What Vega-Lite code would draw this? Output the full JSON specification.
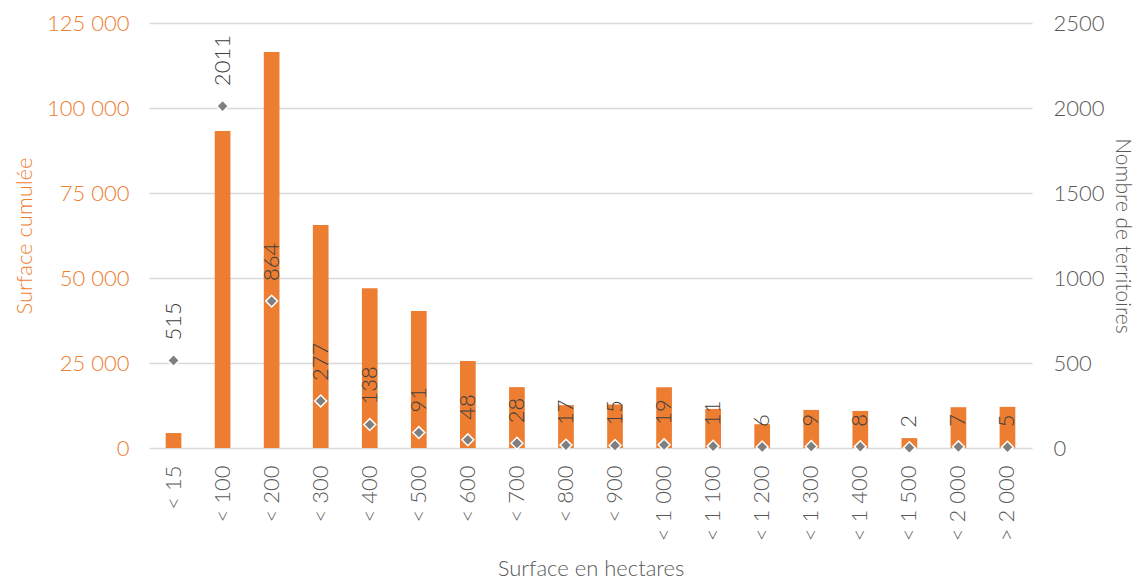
{
  "$schema": "https://vega.github.io/schema/vega-lite/v6.json",
  "width": 1146,
  "height": 580,
  "autosize": {"type": "fit", "contains": "padding"},
  "padding": {"left": 13, "top": 12, "right": 13, "bottom": 0},
  "background": "white",
  "config": {
    "font": "Lato",
    "view": {"stroke": null}
  },
  "data": {
    "values": [
      {"classe": "< 15", "surface": 4400, "nombre": 515},
      {"classe": "< 100", "surface": 93200, "nombre": 2011},
      {"classe": "< 200", "surface": 116500, "nombre": 864},
      {"classe": "< 300", "surface": 65600, "nombre": 277},
      {"classe": "< 400", "surface": 47000, "nombre": 138},
      {"classe": "< 500", "surface": 40300, "nombre": 91},
      {"classe": "< 600", "surface": 25600, "nombre": 48},
      {"classe": "< 700", "surface": 17900, "nombre": 28},
      {"classe": "< 800", "surface": 12600, "nombre": 17},
      {"classe": "< 900", "surface": 12800, "nombre": 15},
      {"classe": "< 1 000", "surface": 17900, "nombre": 19},
      {"classe": "< 1 100", "surface": 11500, "nombre": 11},
      {"classe": "< 1 200", "surface": 7000, "nombre": 6},
      {"classe": "< 1 300", "surface": 11200, "nombre": 9},
      {"classe": "< 1 400", "surface": 10900, "nombre": 8},
      {"classe": "< 1 500", "surface": 2900, "nombre": 2},
      {"classe": "< 2 000", "surface": 12000, "nombre": 7},
      {"classe": "> 2 000", "surface": 12100, "nombre": 5}
    ]
  },
  "encoding": {
    "x": {
      "field": "classe",
      "type": "nominal",
      "sort": null,
      "scale": {"paddingInner": 0.68, "paddingOuter": 0.34},
      "axis": {
        "title": "Surface en hectares",
        "titleFontSize": 22,
        "titleFontWeight": 300,
        "titleColor": "#595959",
        "titlePadding": 18,
        "labelAngle": -90,
        "labelFontSize": 22,
        "labelFontWeight": 300,
        "labelColor": "#595959",
        "labelPadding": 17,
        "ticks": false,
        "domain": false
      }
    }
  },
  "layer": [
    {
      "mark": {"type": "bar", "color": "#ED7D31"},
      "encoding": {
        "y": {
          "field": "surface",
          "type": "quantitative",
          "scale": {"domain": [0, 125000]},
          "axis": {
            "title": "Surface cumulée",
            "titleColor": "#ED7D31",
            "titleFontSize": 22,
            "titleFontWeight": 300,
            "titlePadding": 10,
            "labelColor": "#ED7D31",
            "labelFontSize": 22,
            "labelFontWeight": 300,
            "labelPadding": 20,
            "values": [0, 25000, 50000, 75000, 100000, 125000],
            "labelExpr": "replace(format(datum.value, ','), ',', ' ')",
            "ticks": false,
            "domain": false,
            "grid": true,
            "gridColor": "#D9D9D9",
            "gridWidth": 1.5
          }
        }
      }
    },
    {
      "encoding": {
        "y": {
          "field": "nombre",
          "type": "quantitative",
          "scale": {"domain": [0, 2500]},
          "axis": {
            "orient": "right",
            "title": "Nombre de territoires",
            "titleColor": "#595959",
            "titleFontSize": 21,
            "titleFontWeight": 300,
            "titlePadding": 7,
            "labelColor": "#595959",
            "labelFontSize": 22,
            "labelFontWeight": 300,
            "labelPadding": 21,
            "values": [0, 500, 1000, 1500, 2000, 2500],
            "format": "d",
            "ticks": false,
            "domain": false,
            "grid": false
          }
        }
      },
      "layer": [
        {
          "mark": {"type": "point", "shape": "diamond", "filled": true, "color": "#7F7F7F", "stroke": "white", "strokeWidth": 1.5, "size": 140, "opacity": 1}
        },
        {
          "mark": {"type": "text", "angle": 270, "align": "left", "baseline": "middle", "dx": 20, "fontSize": 22, "fontWeight": 300, "color": "#404040"},
          "encoding": {"text": {"field": "nombre", "type": "quantitative", "format": "d"}}
        }
      ]
    }
  ],
  "resolve": {"scale": {"y": "independent"}}
}
